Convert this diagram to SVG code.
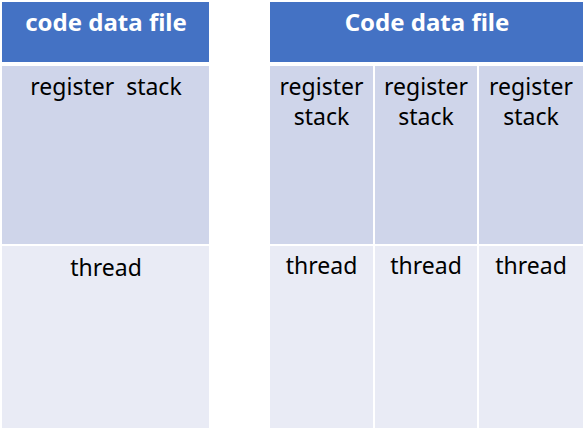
<svg xmlns="http://www.w3.org/2000/svg" width="587" height="434" viewBox="0 0 587 434">
  <style>
    .head { fill: #4472C4; }
    .reg { fill: #CFD5EA; }
    .thr { fill: #E9EBF5; }
    .ht { font-family: "Noto Sans", "Liberation Sans", sans-serif; font-size: 24px; font-weight: bold; fill: #FFFFFF; text-anchor: middle; }
    .bt { font-family: "Noto Sans", "Liberation Sans", sans-serif; font-size: 23px; fill: #000000; text-anchor: middle; }
  </style>
  <rect width="587" height="434" fill="#FFFFFF"/>

  <!-- single-threaded process -->
  <g id="single-header">
    <rect class="head" x="2" y="2" width="207" height="60"/>
    <text class="ht" x="106" y="31">code data file</text>
  </g>
  <g id="single-register-stack">
    <rect class="reg" x="2" y="66" width="207" height="178"/>
    <text class="bt" x="106" y="95" xml:space="preserve">register  stack</text>
  </g>
  <g id="single-thread">
    <rect class="thr" x="2" y="246" width="207" height="182"/>
    <text class="bt" x="106" y="276">thread</text>
  </g>

  <!-- multi-threaded process -->
  <g id="multi-header">
    <rect class="head" x="270" y="2" width="313" height="60"/>
    <text class="ht" x="427" y="31">Code data file</text>
  </g>
  <g id="multi-register-stack-1">
    <rect class="reg" x="270" y="66" width="103" height="178"/>
    <text class="bt" x="321.5" y="95">register</text>
    <text class="bt" x="321.5" y="125">stack</text>
  </g>
  <g id="multi-register-stack-2">
    <rect class="reg" x="375" y="66" width="102" height="178"/>
    <text class="bt" x="426" y="95">register</text>
    <text class="bt" x="426" y="125">stack</text>
  </g>
  <g id="multi-register-stack-3">
    <rect class="reg" x="479" y="66" width="104" height="178"/>
    <text class="bt" x="531" y="95">register</text>
    <text class="bt" x="531" y="125">stack</text>
  </g>
  <g id="multi-thread-1">
    <rect class="thr" x="270" y="246" width="103" height="182"/>
    <text class="bt" x="321.5" y="274">thread</text>
  </g>
  <g id="multi-thread-2">
    <rect class="thr" x="375" y="246" width="102" height="182"/>
    <text class="bt" x="426" y="274">thread</text>
  </g>
  <g id="multi-thread-3">
    <rect class="thr" x="479" y="246" width="104" height="182"/>
    <text class="bt" x="531" y="274">thread</text>
  </g>

  <g id="connectors"/>
</svg>
